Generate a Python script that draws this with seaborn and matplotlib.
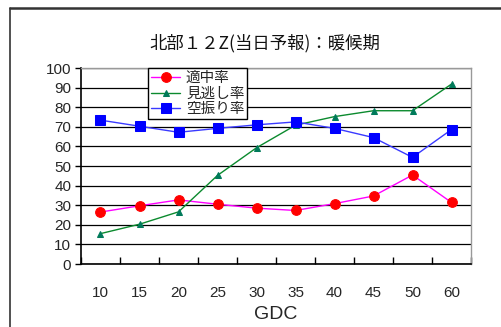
import matplotlib
matplotlib.use("Agg")
import matplotlib.pyplot as plt
import seaborn as sns
import pandas as pd
from matplotlib.lines import Line2D
from matplotlib.ticker import FixedLocator, MultipleLocator

# GDC categories and the three rates (%)
gdc = ["10", "15", "20", "25", "30", "35", "40", "45", "50", "60"]
hit_rate = [26.5, 29.7, 32.7, 30.5, 28.5, 27.3, 30.8, 34.7, 45.4, 31.4]
miss_rate = [15.5, 20.3, 26.6, 45.2, 59.3, 70.8, 75.2, 78.2, 78.2, 91.8]
false_alarm = [73.4, 70.3, 67.2, 69.2, 71.0, 72.5, 69.2, 64.5, 54.4, 68.6]

names = ["適中率", "見逃し率", "空振り率"]
title = "北部１２Z(当日予報)：暖候期"

sns.set_theme(style="white")
plt.rcParams["font.family"] = ["Liberation Sans", "Noto Sans CJK JP", "DejaVu Sans"]

fig = plt.figure(figsize=(5.02, 3.27), dpi=100)
fig.patch.set_facecolor("white")
# outer chart frame: top and left edges
frame_x, frame_y = 10.5 / 502, 1 - 7.5 / 327
fig.add_artist(Line2D([frame_x, 1.0], [frame_y, frame_y], transform=fig.transFigure,
                      color="#333333", linewidth=1.8))
fig.add_artist(Line2D([frame_x, frame_x], [0.0, frame_y], transform=fig.transFigure,
                      color="#333333", linewidth=1.2))

ax = fig.add_axes([81 / 502, 1 - 264 / 327, 390 / 502, 196 / 327])

styles = [
    dict(color="#ff00ff", marker="o", markerfacecolor="#ff0000",
         markeredgecolor="#ff0000", markersize=7),
    dict(color="#0b8a2e", marker="^", markerfacecolor="#007a5a",
         markeredgecolor="#007a5a", markersize=4.5),
    dict(color="#3a3aff", marker="s", markerfacecolor="#0000ff",
         markeredgecolor="#0000ff", markersize=7),
]
for name, vals, st in zip(names, [hit_rate, miss_rate, false_alarm], styles):
    df = pd.DataFrame({"GDC": gdc, "rate": vals})
    sns.lineplot(data=df, x="GDC", y="rate", ax=ax, label=name,
                 linewidth=1.0, sort=False, **st)

ax.set_xlim(-0.5, len(gdc) - 0.5)
ax.set_ylim(0, 100)
ax.yaxis.set_major_locator(MultipleLocator(10))
ax.grid(axis="y", color="black", linewidth=0.9)
ax.grid(axis="x", visible=False)
ax.set_axisbelow(True)

ax.set_xticks(range(len(gdc)))
ax.set_xticklabels(gdc)
ax.xaxis.set_minor_locator(FixedLocator([i - 0.5 for i in range(len(gdc) + 1)]))
ax.tick_params(axis="x", which="major", length=0, pad=16, labelsize=11)
ax.tick_params(axis="x", which="minor", direction="in", length=5,
               width=1, color="black", bottom=True)
ax.tick_params(axis="y", which="major", direction="out", length=4,
               width=1, color="black", left=True, labelsize=11, pad=3)

for side in ["left", "bottom"]:
    ax.spines[side].set_color("black")
    ax.spines[side].set_linewidth(1.2)
for side in ["top", "right"]:
    ax.spines[side].set_color("#999999")
    ax.spines[side].set_linewidth(1.0)

ax.set_xlabel("GDC", fontsize=14, labelpad=4)
ax.set_ylabel("")
fig.text(265 / 502, 1 - 43 / 327, title, fontsize=12.5, ha="center", va="center",
         family=["Noto Sans CJK JP", "DejaVu Sans"], color="#111111")

leg = ax.legend(loc="upper left", bbox_to_anchor=(0.172, 1.0), frameon=True,
                fancybox=False, edgecolor="black", framealpha=1,
                prop={"family": ["Noto Sans CJK JP", "DejaVu Sans"], "size": 10.5},
                handlelength=2.0, handletextpad=0.4, labelspacing=0.12,
                borderpad=0.2, borderaxespad=0)
leg.get_frame().set_linewidth(1.0)

fig.savefig("out.png", dpi=100)
